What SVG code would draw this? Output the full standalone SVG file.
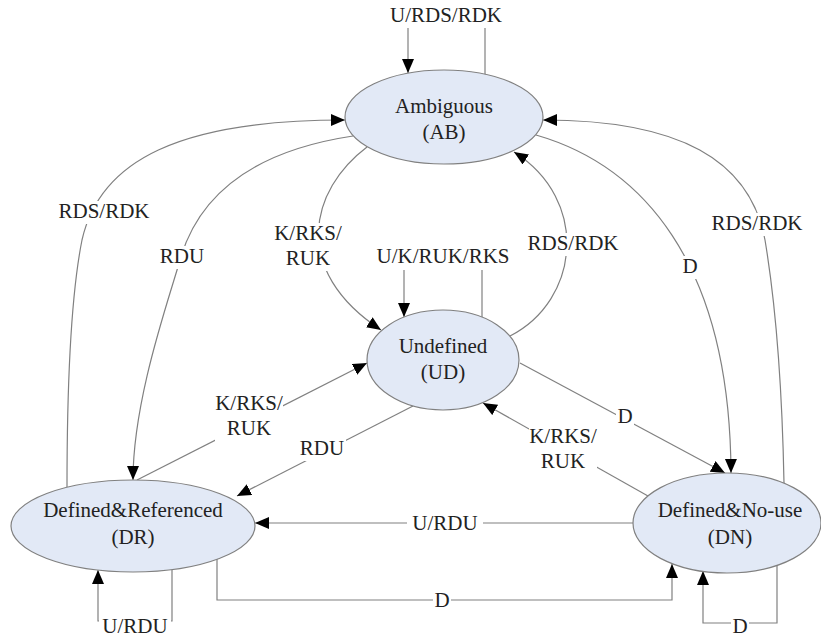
<svg xmlns="http://www.w3.org/2000/svg" width="821" height="639" viewBox="0 0 821 639" font-family="Liberation Serif, Times New Roman, serif" font-size="21">
<style>
.node ellipse{fill:#e2e9f6;stroke:#808080;stroke-width:1.2}
text{fill:#222;text-anchor:middle}
.c{fill:none;stroke:#808080;stroke-width:1.2}
.bg{fill:#ffffff;stroke:none}
</style>
<defs>
<marker id="ah" markerUnits="userSpaceOnUse" markerWidth="15" markerHeight="13" refX="14" refY="6" orient="auto">
<path d="M0,0 L14,6 L0,12 z" fill="#000"/>
</marker>
</defs>
<rect width="821" height="639" fill="#fff"/>
<g id="connectors">
<path class="c" d="M408 28 L408 73" marker-end="url(#ah)"/>
<path class="c" d="M485 28 L485 75"/>
<path class="c" d="M67 487 C67 400 70 300 82 240 C100 160 180 120 345 120" marker-end="url(#ah)"/>
<path class="c" d="M353 136 C260 150 200 190 180 260 C168 302 133 400 133 480" marker-end="url(#ah)"/>
<path class="c" d="M367 147 C310 190 290 270 381 330" marker-end="url(#ah)"/>
<path class="c" d="M404 270 L404 317" marker-end="url(#ah)"/>
<path class="c" d="M482 270 L482 317"/>
<path class="c" d="M510 336 C580 300 590 200 514 152" marker-end="url(#ah)"/>
<path class="c" d="M536 135 C640 165 730 260 731 473" marker-end="url(#ah)"/>
<path class="c" d="M784 483 C782 380 775 300 765 240 C750 160 680 120 543 120" marker-end="url(#ah)"/>
<path class="c" d="M137 480 L367 363" marker-end="url(#ah)"/>
<path class="c" d="M413 406 L237 496" marker-end="url(#ah)"/>
<path class="c" d="M520 363 L725 473" marker-end="url(#ah)"/>
<path class="c" d="M648 496 L483 403" marker-end="url(#ah)"/>
<path class="c" d="M633 523 L255 523" marker-end="url(#ah)"/>
<path class="c" d="M217 559 L217 600 L672 600 L672 564" marker-end="url(#ah)"/>
<path class="c" d="M172 570 L172 621 L98 621 L98 570" marker-end="url(#ah)"/>
<path class="c" d="M777 566 L777 623 L703 623 L703 571" marker-end="url(#ah)"/>
<rect class="bg" x="58" y="201" width="93" height="23"/>
<rect class="bg" x="159" y="246" width="47" height="23"/>
<rect class="bg" x="274" y="223" width="68" height="48"/>
<rect class="bg" x="526" y="233" width="94" height="23"/>
<rect class="bg" x="681" y="256" width="18" height="23"/>
<rect class="bg" x="710" y="213" width="94" height="23"/>
<rect class="bg" x="215" y="393" width="68" height="48"/>
<rect class="bg" x="299" y="438" width="47" height="23"/>
<rect class="bg" x="616" y="405" width="18" height="24"/>
<rect class="bg" x="529" y="426" width="68" height="48"/>
<rect class="bg" x="407" y="512" width="76" height="23"/>
<rect class="bg" x="433" y="590" width="18" height="22"/>
<rect class="bg" x="99" y="614" width="72" height="25"/>
<rect class="bg" x="731" y="614" width="18" height="25"/>
<text x="446" y="22">U/RDS/RDK</text>
<text x="104" y="218">RDS/RDK</text>
<text x="182" y="263">RDU</text>
<text x="308" y="240">K/RKS/</text>
<text x="308" y="265">RUK</text>
<text x="443" y="263">U/K/RUK/RKS</text>
<text x="573" y="250">RDS/RDK</text>
<text x="690" y="273">D</text>
<text x="757" y="230">RDS/RDK</text>
<text x="249" y="410">K/RKS/</text>
<text x="249" y="435">RUK</text>
<text x="322" y="455">RDU</text>
<text x="625" y="423">D</text>
<text x="563" y="443">K/RKS/</text>
<text x="563" y="468">RUK</text>
<text x="445" y="530">U/RDU</text>
<text x="442" y="607">D</text>
<text x="135" y="633">U/RDU</text>
<text x="740" y="633">D</text>
</g>
<g id="node-ab" class="node">
<ellipse cx="444" cy="117" rx="99" ry="47"/>
<text x="444" y="113">Ambiguous</text>
<text x="444" y="139">(AB)</text>
</g>
<g id="node-ud" class="node">
<ellipse cx="443" cy="360" rx="76" ry="50"/>
<text x="443" y="353">Undefined</text>
<text x="443" y="379">(UD)</text>
</g>
<g id="node-dr" class="node">
<ellipse cx="133" cy="526" rx="122" ry="46"/>
<text x="133" y="517">Defined&amp;Referenced</text>
<text x="133" y="544">(DR)</text>
</g>
<g id="node-dn" class="node">
<ellipse cx="727" cy="523" rx="94" ry="50"/>
<text x="730" y="517">Defined&amp;No-use</text>
<text x="730" y="544">(DN)</text>
</g>
</svg>
